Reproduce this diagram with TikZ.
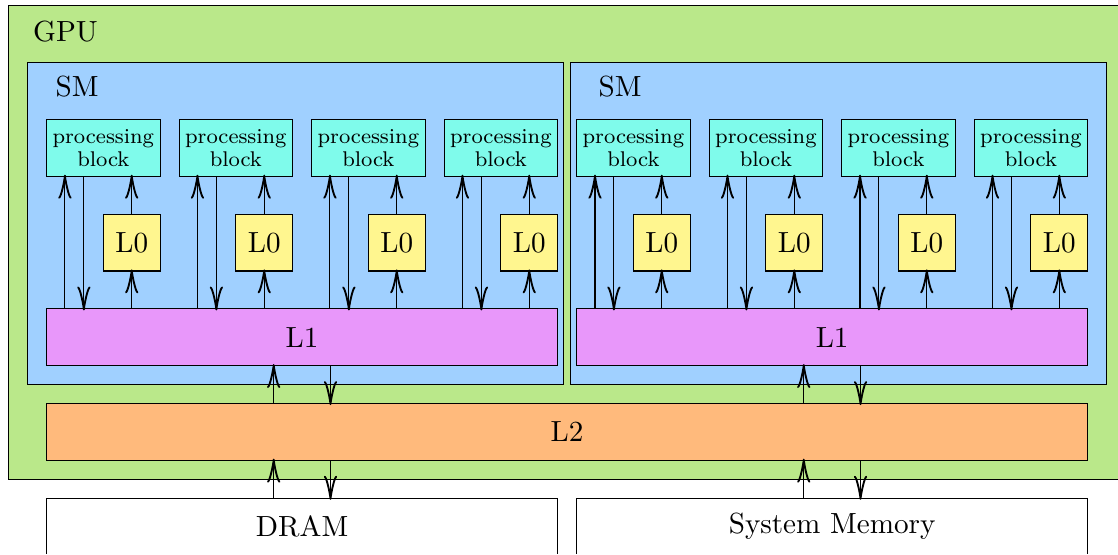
\documentclass[tikz,border=0pt]{standalone}
\usepackage{xcolor}
\usepackage{tikz}
\usetikzlibrary{arrows.meta,calc,positioning}

\definecolor{gpugreen}{RGB}{186,232,138}
\definecolor{smblue}{RGB}{160,208,255}
\definecolor{pbcyan}{RGB}{127,251,235}
\definecolor{lzeroyellow}{RGB}{255,246,143}
\definecolor{loneviolet}{RGB}{232,151,250}
\definecolor{ltwoorange}{RGB}{255,186,124}

\begin{document}
\begin{tikzpicture}[->,>={Classical TikZ Rightarrow[length=9pt,width=5pt,line width=0.7pt]},shorten >=-0.8pt,thin]
\tikzset{
  every node/.style={font=\fontsize{10.95}{13.6}\selectfont},
  box/.style={draw=black,rectangle,inner sep=0pt,anchor=north west,-},
  gpubox/.style={box,fill=gpugreen,minimum width=14.8cm,minimum height=6.25cm},
  smbox/.style={box,fill=smblue,minimum width=7.08cm,minimum height=4.25cm},
  pblock/.style={box,fill=pbcyan,minimum width=1.5cm,minimum height=0.75cm,align=center,font=\fontsize{8}{8.4}\selectfont},
  lzero/.style={box,fill=lzeroyellow,minimum width=0.75cm,minimum height=0.75cm},
  lone/.style={box,fill=loneviolet,minimum width=6.75cm,minimum height=0.75cm},
  ltwo/.style={box,fill=ltwoorange,minimum width=13.75cm,minimum height=0.75cm},
  memory/.style={box,fill=white,minimum width=6.75cm,minimum height=0.75cm},
  tag/.style={anchor=base west,inner sep=0pt}
}
\useasboundingbox (-0.6075,-5.745) rectangle (14.157,1.5716);
\clip (-0.6075,-5.742) rectangle (14.157,1.5716);

% GPU and the two SMs
\node[gpubox] (gpu) at (-0.5,1.5) {};
\node[tag] (gpu-label) at ([xshift=0.324cm,yshift=-0.483cm]gpu.north west) {GPU};

\foreach \s/\x/\smx in {1/0/-0.25,2/7/6.92} {
  \node[smbox] (sm-\s) at (\smx,0.75) {};
  \node[tag] (sm-label-\s) at ([xshift=0.37cm,yshift=-0.455cm]sm-\s.north west) {SM};
  \node[lone] (lone-\s) at (\x,-2.5) {L1};
}

% processing blocks with their L0
\foreach \s in {1,2} {
  \foreach \b in {1,...,4} {
    \pgfmathsetmacro{\px}{(\s-1)*7+(\b-1)*1.75}
    \node[pblock] (pb-\s-\b) at (\px,0) {processing\\block};
    \node[lzero] (lzero-\s-\b) at (\px+0.75,-1.25) {L0};
    \coordinate (up-\s-\b) at ([xshift=0.25cm]pb-\s-\b.south west);
    \coordinate (dn-\s-\b) at ([xshift=0.5cm]pb-\s-\b.south west);
    \draw (up-\s-\b |- lone-\s.north) -- (up-\s-\b);
    \draw (dn-\s-\b) -- (dn-\s-\b |- lone-\s.north);
    \draw (lzero-\s-\b.south |- lone-\s.north) -- (lzero-\s-\b.south);
    \draw (lzero-\s-\b.north) -- (lzero-\s-\b.north |- pb-\s-\b.south);
  }
}

% L2 and memories
\node[ltwo] (ltwo) at (0,-3.75) {L2};
\node[memory] (dram) at (0,-5) {DRAM};
\node[memory] (sysmem) at (7,-5) {System Memory};

\foreach \s/\m in {1/dram,2/sysmem} {
  \coordinate (lup-\s) at ([xshift=-0.375cm]lone-\s.south);
  \coordinate (ldn-\s) at ([xshift=0.375cm]lone-\s.south);
  \draw (lup-\s |- ltwo.north) -- (lup-\s);
  \draw (ldn-\s) -- (ldn-\s |- ltwo.north);
  \draw (lup-\s |- \m.north) -- (lup-\s |- ltwo.south);
  \draw (ldn-\s |- ltwo.south) -- (ldn-\s |- \m.north);
}
\end{tikzpicture}
\end{document}
